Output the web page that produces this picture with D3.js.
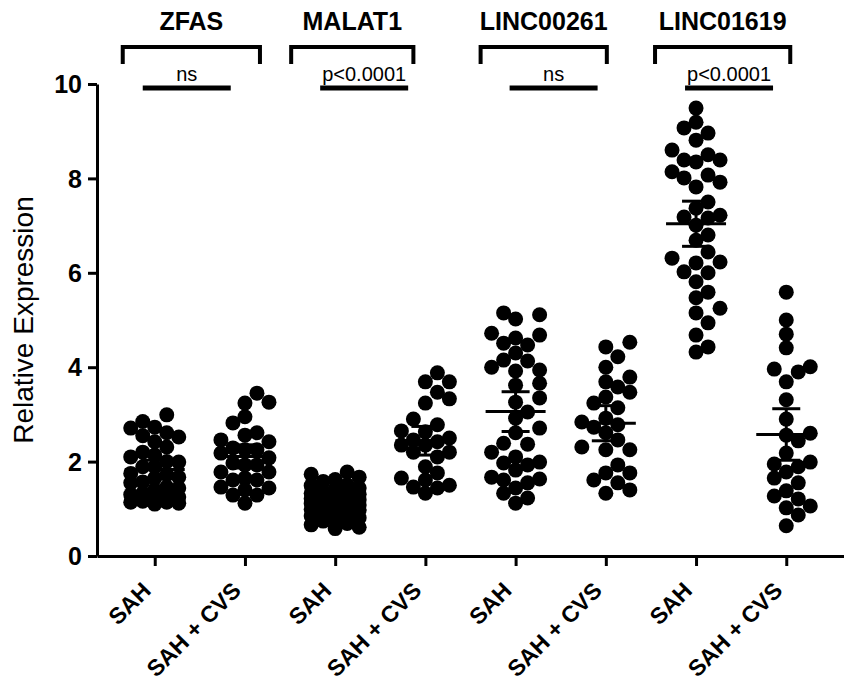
<!DOCTYPE html>
<html>
<head>
<meta charset="utf-8">
<script src="https://cdn.jsdelivr.net/npm/d3@7"></script>
<style>
  body { margin: 0; background: #fff; }
  svg { display: block; }
  text { font-family: "Liberation Sans", Arial, sans-serif; }
</style>
</head>
<body>
<svg id="chart"></svg>
<script>
const genes = ["ZFAS", "MALAT1", "LINC00261", "LINC01619"];
const groups = ["SAH", "SAH + CVS"];
const pLabels = ["ns", "p<0.0001", "ns", "p<0.0001"];
const yTicks = [0, 2, 4, 6, 8, 10];

const zfasSAH = [2.99, 2.71, 2.73, 2.61, 2.52, 2.42, 2.31, 2.20, 2.10, 2.14, 1.99, 1.89, 1.89, 1.72,
    1.65, 1.67, 1.55, 1.57, 1.46, 1.40, 1.44, 1.33, 1.29, 1.25, 1.25, 1.14, 1.14, 1.12, 1.16,
    2.85, 2.55, 2.00, 1.75, 1.30, 1.10];
const zfasCVS = [3.45, 3.26, 3.24, 2.95, 2.82, 2.61, 2.56, 2.46, 2.42, 2.25, 2.29, 2.25, 2.18, 2.08,
    1.93, 1.97, 1.93, 1.78, 1.78, 1.65, 1.61, 1.61, 1.46, 1.44, 1.40, 1.29, 1.29, 1.12];
const malatSAH = [1.78, 1.73, 1.67, 1.62, 1.58, 1.51, 1.49, 1.44, 1.42, 1.37, 1.36, 1.33, 1.31, 1.28,
    1.27, 1.24, 1.22, 1.19, 1.18, 1.16, 1.13, 1.11, 1.08, 1.07, 1.04, 1.02, 0.99, 0.97, 0.94,
    0.92, 0.88, 0.85, 0.81, 0.78, 0.74, 0.69, 0.66, 0.61, 0.58];
const malatCVS = [3.88, 3.69, 3.69, 3.47, 3.24, 3.33, 2.90, 2.78, 2.65, 2.63, 2.50, 2.42, 2.46, 2.35,
    2.35, 2.20, 2.10, 2.20, 1.89, 1.76, 1.61, 1.65, 1.50, 1.46, 1.44, 1.33];
const lincASAH = [5.15, 5.11, 5.02, 4.72, 4.62, 4.68, 4.47, 4.51, 4.30, 4.15, 4.13, 3.92, 4.00, 3.94,
    3.62, 3.66, 3.35, 3.26, 3.05, 2.92, 2.71, 2.61, 2.37, 2.39, 2.20, 2.10, 1.97, 1.99, 1.93,
    1.82, 1.63, 1.67, 1.61, 1.55, 1.44, 1.33, 1.23, 1.12];
const lincACVS = [4.43, 4.53, 4.22, 4.00, 3.79, 3.58, 3.69, 3.47, 3.37, 3.24, 3.14, 2.92, 2.84, 2.78,
    2.73, 2.61, 2.46, 2.25, 2.25, 2.31, 1.93, 1.76, 1.76, 1.61, 1.55, 1.40, 1.33];
const lincBSAH = [9.49, 9.19, 9.07, 8.96, 8.81, 8.60, 8.50, 8.39, 8.39, 8.35, 8.14, 8.07, 8.01, 7.92,
    7.82, 7.50, 7.37, 7.22, 7.16, 7.18, 7.01, 6.80, 6.69, 6.44, 6.23, 6.31, 6.21, 6.02, 6.00,
    5.81, 5.59, 5.47, 5.25, 5.15, 4.94, 4.68, 4.43, 4.32];
const lincBCVS = [5.59, 5.00, 4.70, 4.41, 4.01, 3.96, 3.90, 3.69, 3.31, 2.90, 2.56, 2.60, 2.44, 2.18,
    1.95, 1.99, 1.89, 1.78, 1.65, 1.55, 1.38, 1.27, 1.21, 1.02, 1.06, 0.87, 0.64];

const series = [zfasSAH, zfasCVS, malatSAH, malatCVS, lincASAH, lincACVS, lincBSAH, lincBCVS];
const keys = [];
genes.forEach(g => groups.forEach(s => keys.push(g + "|" + s)));

const width = 844, height = 681;
const svg = d3.select("#chart").attr("width", width).attr("height", height);

const x = d3.scalePoint().domain(keys).range([97, 844]).padding(0.64);
const y = d3.scaleLinear().domain([0, 10]).range([556, 84]);

// axes
const yAxis = svg.append("g")
    .attr("transform", "translate(97,0)")
    .call(d3.axisLeft(y).tickValues(yTicks).tickSize(9).tickSizeOuter(0));
yAxis.select(".domain").attr("stroke-width", 3);
yAxis.selectAll(".tick line").attr("stroke-width", 3);
yAxis.selectAll(".tick text")
    .attr("font-size", 25).attr("font-weight", "bold").attr("fill", "#000")
    .attr("font-family", "Liberation Sans, Arial, sans-serif")
    .attr("x", -15).attr("dy", "0.35em");

const xAxis = svg.append("g")
    .attr("transform", "translate(0,556)")
    .call(d3.axisBottom(x).tickSize(10).tickSizeOuter(0).tickFormat(d => d.split("|")[1]));
xAxis.select(".domain").attr("stroke-width", 3);
xAxis.selectAll(".tick line").attr("stroke-width", 3);
xAxis.selectAll(".tick text")
    .attr("font-size", 23).attr("font-weight", "bold").attr("fill", "#000")
    .attr("font-family", "Liberation Sans, Arial, sans-serif")
    .attr("text-anchor", "end")
    .attr("dy", 0).attr("y", 0)
    .attr("transform", "translate(-3,36) rotate(-45)");

svg.append("text")
    .text("Relative Expression")
    .attr("transform", "translate(33,320) rotate(-90)")
    .attr("text-anchor", "middle")
    .attr("font-size", 28)
    .attr("fill", "#000");

// dots, laid out as a simple swarm
const r = 7.5, dx = 12, minD = 13;
function swarm(vals, cx) {
    const placed = [];
    const sorted = vals.slice().sort((a, b) => a - b);
    sorted.forEach(v => {
        const py = y(v);
        let best = null, bestD = -1;
        for (const k of [0, 1, -1, 2, -2]) {
            const px = cx + k * dx;
            let md = Infinity;
            placed.forEach(p => { md = Math.min(md, Math.hypot(p.x - px, p.y - py)); });
            if (md >= minD) { best = px; break; }
            if (md > bestD) { bestD = md; best = px; }
        }
        placed.push({x: best, y: py, v: v});
    });
    return placed;
}

const dotGroup = svg.append("g");
series.forEach((vals, i) => {
    const pts = swarm(vals, x(keys[i]));
    dotGroup.selectAll(null).data(pts).enter().append("circle")
        .attr("cx", d => d.x).attr("cy", d => d.y).attr("r", r).attr("fill", "#000");
});

// mean with 95% CI
const statGroup = svg.append("g").attr("stroke", "#000").attr("stroke-width", 3);
series.forEach((vals, i) => {
    const cx = x(keys[i]);
    const m = d3.mean(vals);
    const ci = 2.03 * d3.deviation(vals) / Math.sqrt(vals.length);
    statGroup.append("line").attr("x1", cx - 30).attr("x2", cx + 30).attr("y1", y(m)).attr("y2", y(m));
    statGroup.append("line").attr("x1", cx).attr("x2", cx).attr("y1", y(m - ci)).attr("y2", y(m + ci));
    [m - ci, m + ci].forEach(e => {
        statGroup.append("line").attr("x1", cx - 14).attr("x2", cx + 14).attr("y1", y(e)).attr("y2", y(e));
    });
});

// gene brackets and significance
const bracketL = [-32, -44, -35, -41];
const bracketR = [15, -12, 1, 4];
const sigL = [-12, -15, -6, -11];
genes.forEach((g, i) => {
    const a = x(g + "|" + groups[0]), b = x(g + "|" + groups[1]);
    const l = a + bracketL[i], rr = b + bracketR[i];
    svg.append("path")
        .attr("d", `M${l},64V47H${rr}V64`)
        .attr("fill", "none").attr("stroke", "#000").attr("stroke-width", 4);
    svg.append("text").text(g)
        .attr("x", (l + rr) / 2).attr("y", 30)
        .attr("text-anchor", "middle").attr("font-size", 25).attr("font-weight", "bold");
    const s0 = a + sigL[i], s1 = s0 + 88;
    svg.append("line").attr("x1", s0).attr("x2", s1).attr("y1", 88).attr("y2", 88)
        .attr("stroke", "#000").attr("stroke-width", 5);
    svg.append("text").text(pLabels[i])
        .attr("x", (s0 + s1) / 2).attr("y", 81)
        .attr("text-anchor", "middle").attr("font-size", 20);
});
</script>
</body>
</html>
